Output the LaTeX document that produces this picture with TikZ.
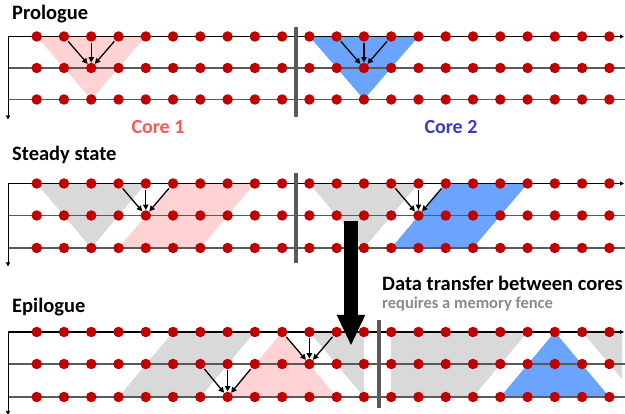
\documentclass[tikz,border=0pt]{standalone}
\usepackage{fontspec}
\setmainfont{Carlito}
\usetikzlibrary{arrows.meta,backgrounds}

\definecolor{dotred}{HTML}{C00000}
\definecolor{linegray}{HTML}{5A5A5A}
\definecolor{shadegray}{HTML}{D9D9D9}
\definecolor{shadepink}{HTML}{FFD3D3}
\definecolor{shadeblue}{HTML}{6AA4FF}
\definecolor{coreone}{HTML}{FF5757}
\definecolor{coretwo}{HTML}{3B3BCB}
\definecolor{notegray}{HTML}{8A8A8A}

\begin{document}
\begin{tikzpicture}[x=1pt, y=-1pt,
  dot/.style={circle, fill=dotred, inner sep=0pt, minimum size=10.5pt},
  dep/.style={-{Triangle[length=5.5pt,width=5.5pt]}, line width=1.3pt, shorten <=1pt},
  heading/.style={font=\bfseries\fontsize{20.5}{24}\selectfont, anchor=west, inner sep=0pt},
  corelabel/.style={font=\bfseries\fontsize{20}{24}\selectfont, inner sep=0pt},
  sepbar/.style={linegray, line width=4.5pt},
  timeline/.style={black, line width=1.4pt, -{Triangle[length=4pt,width=4pt]}},
  lane/.style={linegray, line width=1.6pt}
]
\useasboundingbox (0,0) rectangle (625,414);

\foreach \s/\yt/\ym/\yb in {P/36.5/68/99.5, S/183.5/215.5/248, E/332/364/397} {
  \coordinate (\s-o) at (8,\yt);
  \foreach \r/\y in {t/\yt, m/\ym, b/\yb} {
    \foreach \i in {0,...,21} {
      \node[dot] (\s-\r-\i) at ({36.7+27.27*\i},\y) {};
    }
  }
}

\begin{scope}[on background layer]
% prologue
\fill[shadepink] (P-t-0.center) -- (P-t-4.center) -- (P-b-2.center) -- cycle;
\fill[shadeblue] (P-t-10.center) -- (P-t-14.center) -- (P-b-12.center) -- cycle;
% steady state
\fill[shadegray] (S-t-0.center) -- (S-t-4.center) -- (S-b-2.center) -- cycle;
\fill[shadepink] (S-b-3.center) -- (S-b-6.center) -- (S-t-8.center) -- (S-t-5.center) -- cycle;
\fill[shadegray] (S-t-10.center) -- (S-t-14.center) -- (S-b-12.center) -- cycle;
\fill[shadeblue] (S-b-13.center) -- (S-b-16.center) -- (S-t-18.center) -- (S-t-15.center) -- cycle;
% epilogue
\fill[shadegray] (E-b-3.center) -- (E-b-6.center) -- (E-t-8.center) -- (E-t-5.center) -- cycle;
\fill[shadepink] (E-t-9.center) -- (E-b-11.center) -- (E-b-7.center) -- cycle;
\fill[shadegray] (E-t-10.center) -- (E-t-12.center) -- (E-b-12.center) -- cycle;
\fill[shadegray] (E-t-13.center) -- (E-t-18.center) -- (E-b-16.center) -- (E-b-13.center) -- cycle;
\fill[shadeblue] (E-t-19.center) -- (E-b-21.center) -- (E-b-17.center) -- cycle;
\fill[shadegray] (E-t-20.center) -- (622,332) -- (622,379) -- cycle;

\foreach \s in {P,S,E} {
  \draw[lane] (\s-o |- \s-m-0) -- ++(617,0);
  \draw[lane] (\s-o |- \s-b-0) -- ++(617,0);
  \draw[timeline] (\s-o) -- ++(616,0);
  \draw[black, line width=0.9pt, -{Triangle[length=4pt,width=4pt]}] (\s-o) -- ++(0,83);
}
\end{scope}

\draw[sepbar] (296,27) -- (296,117);
\draw[sepbar] (296,173) -- (296,263);
\draw[sepbar] (379,320) -- (379,408);

\foreach \a/\b in {P-t-1/P-m-2, P-t-2/P-m-2, P-t-3/P-m-2,
                   P-t-11/P-m-12, P-t-12/P-m-12, P-t-13/P-m-12,
                   S-t-3/S-m-4, S-t-4/S-m-4, S-t-5/S-m-4,
                   S-t-13/S-m-14, S-t-14/S-m-14, S-t-15/S-m-14,
                   E-t-9/E-m-10, E-t-10/E-m-10, E-t-11/E-m-10,
                   E-m-6/E-b-7, E-m-7/E-b-7, E-m-8/E-b-7} {
  \draw[dep] (\a) -- (\b);
}

\node[heading] (prologue) at (12,14) {Prologue};
\node[heading] (steady) at (12,155) {Steady state};
\node[heading] (epilogue) at (12,307) {Epilogue};
\node[corelabel, coreone] (core1) at (158,127) {Core 1};
\node[corelabel, coretwo] (core2) at (451,127) {Core 2};
\node[heading] (xfer) at (382,283) {Data transfer between cores};
\node[font=\bfseries\fontsize{16.5}{20}\selectfont, notegray, anchor=west, inner sep=0pt] (fence) at (382,304) {requires a memory fence};

\coordinate (xfer-a) at (351,221);
\coordinate (xfer-b) at (351,346);
\draw[line width=14pt, -{Triangle[length=31pt,width=26pt]}] (xfer-a) -- (xfer-b);
\end{tikzpicture}
\end{document}
